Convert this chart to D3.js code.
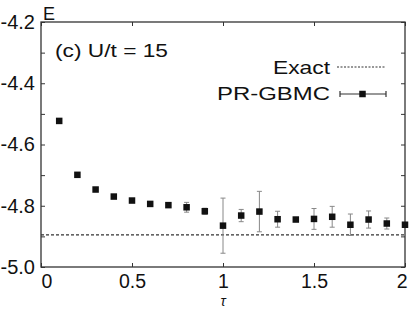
<!DOCTYPE html>
<html><head><meta charset="utf-8">
<script src="https://cdn.jsdelivr.net/npm/d3@7/dist/d3.min.js"></script>
<style>
html,body{margin:0;padding:0;background:#fff;}
svg{display:block;}
text{font-family:"Liberation Sans",Arial,Helvetica,sans-serif;fill:#111;}
</style></head>
<body>
<svg id="chart" width="409" height="310"></svg>
<script>
const tau = [0.1,0.2,0.3,0.4,0.5,0.6,0.7,0.8,0.9,1.0,1.1,1.2,1.3,1.4,1.5,1.6,1.7,1.8,1.9,2.0];
const energy = [-4.523,-4.699,-4.747,-4.770,-4.783,-4.794,-4.798,-4.805,-4.818,-4.865,-4.832,-4.819,-4.844,-4.845,-4.843,-4.836,-4.862,-4.845,-4.858,-4.862];
const errors = [0,0,0,0,0,0,0,0.016,0.010,0.090,0.020,0.066,0.026,0.005,0.034,0.034,0.035,0.028,0.018,0.005];
const exactE = -4.895;
const xTicks = [0,0.5,1,1.5,2];
const xTickLabels = ["0","0.5","1","1.5","2"];
const yTicks = [-5.0,-4.8,-4.6,-4.4,-4.2];
const yTickLabels = ["-5.0","-4.8","-4.6","-4.4","-4.2"];
const yMinor = [-4.9,-4.7,-4.5,-4.3];
const seriesNames = ["Exact","PR-GBMC"];

const svg = d3.select("#chart");
const L=41,R=405,T=22,B=267;
const x = d3.scaleLinear().domain([0,2]).range([L,R]);
const y = d3.scaleLinear().domain([-5,-4.2]).range([B,T]);
const axisColor="#333";

// frame
svg.append("rect").attr("x",L).attr("y",T).attr("width",R-L).attr("height",B-T)
  .attr("fill","none").attr("stroke",axisColor).attr("stroke-width",1.3);

// axes (ticks inward)
const gx = svg.append("g").attr("transform",`translate(0,${B})`)
  .call(d3.axisBottom(x).tickValues(xTicks).tickSize(-4).tickFormat((d,i)=>xTickLabels[i]).tickPadding(7));
gx.select(".domain").remove();
gx.selectAll("line").attr("stroke",axisColor);
gx.selectAll("text").attr("font-size",19.5).attr("fill","#111")
  .attr("text-anchor",(d,i)=> i===0?"start":(i===xTicks.length-1?"end":"middle"))
  .attr("dx",(d,i)=> i===0?"0px":(i===xTicks.length-1?"2px":"0px"));
const gxt = svg.append("g").attr("transform",`translate(0,${T})`)
  .call(d3.axisTop(x).tickValues(xTicks).tickSize(-4).tickFormat(""));
gxt.select(".domain").remove();
gxt.selectAll("line").attr("stroke",axisColor);

const gy = svg.append("g").attr("transform",`translate(${L},0)`)
  .call(d3.axisLeft(y).tickValues(yTicks).tickSize(-4).tickFormat((d,i)=>yTickLabels[i]).tickPadding(6));
gy.select(".domain").remove();
gy.selectAll("line").attr("stroke",axisColor);
gy.selectAll("text").attr("font-size",20).attr("fill","#111");
const gym = svg.append("g").attr("transform",`translate(${L},0)`)
  .call(d3.axisLeft(y).tickValues(yMinor).tickSize(-4).tickFormat(""));
gym.select(".domain").remove();
gym.selectAll("line").attr("stroke",axisColor);
const gyr = svg.append("g").attr("transform",`translate(${R},0)`)
  .call(d3.axisRight(y).tickValues(yTicks.concat(yMinor)).tickSize(-4).tickFormat(""));
gyr.select(".domain").remove();
gyr.selectAll("line").attr("stroke",axisColor);

// exact line
svg.append("line").attr("x1",x(0)).attr("x2",x(2)).attr("y1",y(exactE)).attr("y2",y(exactE))
  .attr("stroke","#333").attr("stroke-width",1.2).attr("stroke-dasharray","3,2");

// error bars
const data = tau.map((t,i)=>({t,e:energy[i],err:errors[i]}));
const eb = svg.append("g").attr("stroke","#888").attr("stroke-width",1);
data.filter(d=>d.err>0.008).forEach(d=>{
  eb.append("line").attr("x1",x(d.t)).attr("x2",x(d.t)).attr("y1",y(d.e-d.err)).attr("y2",y(d.e+d.err));
  eb.append("line").attr("x1",x(d.t)-2.5).attr("x2",x(d.t)+2.5).attr("y1",y(d.e-d.err)).attr("y2",y(d.e-d.err));
  eb.append("line").attr("x1",x(d.t)-2.5).attr("x2",x(d.t)+2.5).attr("y1",y(d.e+d.err)).attr("y2",y(d.e+d.err));
});
// markers
const ms=6.5;
svg.append("g").selectAll("rect").data(data).join("rect")
  .attr("x",d=>x(d.t)-ms/2).attr("y",d=>y(d.e)-ms/2).attr("width",ms).attr("height",ms).attr("fill","#111");

// labels
svg.append("text").attr("x",43).attr("y",20).attr("font-size",18).text("E");
svg.append("text").attr("x",55).attr("y",57).attr("font-size",18)
  .attr("textLength",113).attr("lengthAdjust","spacingAndGlyphs").text("(c) U/t = 15");
svg.append("text").attr("x",x(1)).attr("y",306).attr("text-anchor","middle")
  .attr("font-family","DejaVu Serif").attr("font-style","italic").attr("font-size",14).text("τ");

// legend
svg.append("text").attr("x",330).attr("y",74).attr("text-anchor","end").attr("font-size",18.5)
  .attr("textLength",57).attr("lengthAdjust","spacingAndGlyphs").text(seriesNames[0]);
svg.append("line").attr("x1",337).attr("x2",385).attr("y1",67).attr("y2",67)
  .attr("stroke","#333").attr("stroke-width",1.2).attr("stroke-dasharray","2,1.5");
svg.append("text").attr("x",330).attr("y",100).attr("text-anchor","end").attr("font-size",18.5)
  .attr("textLength",113).attr("lengthAdjust","spacingAndGlyphs").text(seriesNames[1]);
const lg = svg.append("g").attr("stroke","#333").attr("stroke-width",1.2);
lg.append("line").attr("x1",340).attr("x2",386).attr("y1",94).attr("y2",94);
lg.append("line").attr("x1",340).attr("x2",340).attr("y1",91).attr("y2",97);
lg.append("line").attr("x1",386).attr("x2",386).attr("y1",91).attr("y2",97);
svg.append("rect").attr("x",362.5-ms/2).attr("y",94-ms/2).attr("width",ms).attr("height",ms).attr("fill","#111");
</script>
</body></html>
